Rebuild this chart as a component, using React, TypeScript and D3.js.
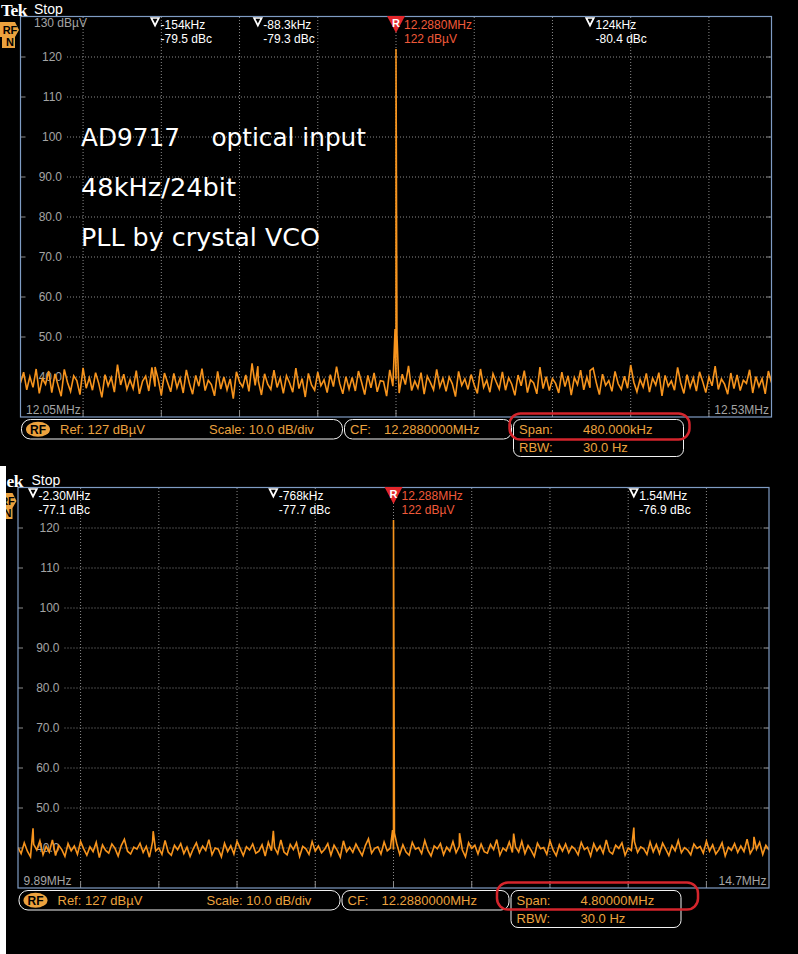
import { scaleLinear, line } from 'd3'

// noise floor (dBµV), evenly spaced across the span
const topNoise = [
  38.5, 41.2, 36.8, 40.1, 37.4, 42.0, 35.9, 39.6, 38.2, 41.5, 36.1, 40.8, 37.9, 35.2, 41.9, 38.7, 36.4, 40.3, 39.1, 35.6,
  42.3, 37.2, 39.8, 36.7, 41.1, 38.4, 34.9, 40.6, 37.8, 39.9, 36.2, 43.1, 38.0, 40.7, 36.9, 39.3, 37.1, 41.6, 35.8, 38.9,
  40.2, 36.5, 42.4, 37.6, 39.4, 35.4, 41.0, 38.6, 36.3, 40.9, 37.3, 39.7, 36.0, 41.8, 38.3, 35.7, 40.4, 37.7, 42.1, 36.6,
  39.2, 38.1, 35.3, 41.4, 37.0, 40.0, 36.8, 39.5, 34.6, 41.3, 38.8, 37.5, 40.5, 36.4, 43.4, 37.9, 39.0, 35.5, 40.8, 38.2,
  36.9, 41.7, 37.4, 39.8, 35.9, 40.3, 38.5, 36.2, 42.2, 37.1, 39.6, 35.0, 40.9, 38.0, 36.7, 41.2, 37.8, 39.3, 36.1, 40.6,
  37.6, 42.6, 38.4, 35.8, 40.1, 37.0, 39.9, 36.5, 41.5, 38.7, 35.6, 40.4, 37.3, 41.0, 36.3, 39.1, 38.9, 35.2, 41.8, 37.7,
  39.4, 36.0, 40.7, 38.1, 42.8, 36.6, 39.0, 37.2, 41.1, 35.7, 40.2, 38.6, 36.8, 41.9, 37.5, 39.7, 36.4, 40.0, 38.3, 35.1,
  41.4, 37.9, 39.5, 36.9, 40.6, 38.0, 35.9, 42.0, 37.4, 39.2, 36.2, 40.8, 38.8, 37.0, 41.3, 36.7, 39.8, 38.2, 35.4, 40.5,
  37.8, 41.6, 36.1, 39.3, 38.5, 35.8, 42.5, 37.1, 40.1, 36.6, 39.6, 38.4, 36.0, 41.2, 37.6, 40.3, 35.5, 39.9, 38.1, 41.7,
  36.8, 40.0, 37.3, 42.2, 38.6, 35.6, 40.7, 37.9, 39.1, 36.4, 41.4, 38.3, 36.9, 40.2, 37.2, 43.0, 38.7, 36.3, 39.4, 37.5,
  40.9, 36.2, 39.7, 38.0, 41.1, 35.3, 40.4, 37.7, 39.0, 36.7, 42.4, 38.5, 35.9, 40.6, 37.4, 39.8, 36.5, 41.3, 38.9, 36.1,
  40.0, 37.8, 42.7, 36.9, 39.5, 38.2, 35.7, 41.0, 37.1, 40.5, 36.6, 39.2, 38.4, 41.8, 36.0, 40.1, 37.6, 39.6, 35.8, 41.5,
  38.6,
]

const bottomNoise = [
  40.1, 38.6, 41.3, 39.2, 37.8, 40.9, 39.5, 41.8, 38.3, 40.4, 39.0, 42.0, 38.1, 40.7, 39.6, 37.9, 41.1, 39.3, 40.5, 38.4,
  41.6, 39.8, 38.2, 40.3, 39.1, 41.4, 37.6, 40.8, 39.4, 38.7, 41.0, 39.9, 38.0, 40.6, 42.2, 39.2, 38.5, 40.2, 39.7, 41.2,
  38.9, 40.4, 37.7, 41.5, 39.3, 40.0, 38.4, 41.9, 39.0, 38.2, 40.7, 39.6, 41.1, 38.6, 40.2, 37.9, 39.8, 41.3, 38.8, 40.5,
  39.4, 42.1, 38.3, 40.0, 39.7, 37.8, 41.2, 39.1, 40.6, 38.5, 41.7, 39.9, 38.1, 40.3, 39.5, 41.0, 38.7, 39.2, 40.8, 38.0,
  41.4, 39.3, 40.1, 38.6, 42.0, 39.0, 38.3, 40.9, 39.6, 41.3, 37.9, 40.4, 39.8, 38.4, 41.6, 39.2, 40.5, 38.8, 39.7, 41.1,
  38.2, 40.7, 39.4, 37.7, 41.8, 39.1, 40.2, 38.9, 41.0, 39.5, 38.1, 40.6, 42.3, 38.7, 39.9, 40.3, 38.5, 41.5, 39.3, 40.0,
  39.6, 41.2, 38.4, 40.8, 39.0, 38.2, 41.4, 39.7, 40.1, 38.6, 41.9, 39.4, 38.0, 40.5, 39.8, 41.1, 38.3, 40.2, 39.2, 41.6,
  38.8, 40.4, 39.5, 37.8, 41.3, 39.9, 40.7, 38.5, 41.0, 39.1, 38.7, 40.9, 39.6, 42.1, 38.2, 40.0, 39.3, 41.5, 38.9, 40.3,
  39.0, 41.7, 38.6, 40.6, 39.4, 37.9, 41.2, 39.8, 40.1, 38.4, 41.8, 39.5, 38.1, 40.8, 39.2, 41.0, 38.8, 40.4, 39.7, 38.3,
  41.4, 39.6, 40.2, 38.0, 41.1, 39.3, 40.5, 38.7, 42.0, 39.1, 38.5, 40.7, 39.9, 41.3, 38.2, 40.0, 39.4, 41.6, 38.9, 40.3,
  39.8, 38.4, 41.5, 39.0, 40.9, 38.6, 41.2, 39.7, 38.1, 40.6, 39.3, 41.9, 38.8, 40.1, 39.5, 38.3, 41.0, 39.9, 40.4, 38.7,
  41.7, 39.2, 40.8, 38.5, 39.6, 41.3, 38.0, 40.2, 39.4, 41.1, 38.9, 40.5, 39.1, 42.2, 38.6, 40.0, 39.7, 41.4, 38.4, 40.7,
  39.5,
]

// carrier (with its close-in skirt) and spurs, offset from centre in kHz
const topSpurFreqs = [-0.6, 0, 0.6, -154, -88.3, 124]
const topSpurLevels = [52.0, 122, 50.5, 42.5, 42.7, 41.6]
const bottomSpurFreqs = [-6, 0, 6, -2304, -1536, -768, 422, 768, 1536, 2304]
const bottomSpurLevels = [44.5, 122, 43.8, 44.9, 44.2, 44.3, 43.7, 43.6, 45.1, 42.8]

const topMarkerFreqs = [-154, -88.3, 124]
const topMarkerLabels = ['-154kHz', '-88.3kHz', '124kHz']
const topMarkerDbc = ['-79.5 dBc', '-79.3 dBc', '-80.4 dBc']
const bottomMarkerFreqs = [-2304, -768, 1536]
const bottomMarkerLabels = ['-2.30MHz', '-768kHz', '1.54MHz']
const bottomMarkerDbc = ['-77.1 dBc', '-77.7 dBc', '-76.9 dBc']

const yTicks = [120, 110, 100, 90, 80, 70, 60, 50, 40]
const yTickLabels = ['120', '110', '100', '90.0', '80.0', '70.0', '60.0', '50.0', '40.0']

const noteLines = ['AD9717\u00a0\u00a0\u00a0\u00a0optical input', '48kHz/24bit', 'PLL by crystal VCO']
const noteWidths = [285, 155, 239]

const FONT = '"Liberation Sans", Arial, sans-serif'
const ORANGE = '#f7941d'
const INFO = '#eca23e'
const GREY = '#a4a4a4'
const GRID = '#8a8a8a'
const FRAME = '#7f9cc4'

interface PanelProps {
  span: number
  noise: number[]
  spurFreqs: number[]
  spurLevels: number[]
  markerFreqs: number[]
  markerLabels: string[]
  markerDbc: string[]
  brand: string
  brandX: number
  refLabel: string
  leftLabel: string
  rightLabel: string
  spanLabel: string
  showTopLabel: boolean
  redBox: [number, number, number, number]
  clipId: string
  transform: string
}

function buildTrace(noise: number[], span: number, spurFreqs: number[], spurLevels: number[]) {
  const step = span / (noise.length - 1)
  const pts = noise.map((v, i) => ({ f: -span / 2 + i * step, v }))
  spurFreqs.forEach((f, k) => pts.push({ f, v: spurLevels[k] }))
  return pts.sort((a, b) => a.f - b.f)
}

function Panel(p: PanelProps) {
  const left = 20.5
  const right = 771.5
  const top = 17
  const bottom = 417
  const x = scaleLinear().domain([-p.span / 2, p.span / 2]).range([left, right])
  const y = scaleLinear().domain([30, 130]).range([bottom, top])
  const trace = buildTrace(p.noise, p.span, p.spurFreqs, p.spurLevels)
  const path = line<{ f: number; v: number }>()
    .x(d => x(d.f))
    .y(d => y(d.v))(trace)
  const vGrid = x.ticks(10).filter(t => t > -p.span / 2 && t < p.span / 2)
  const carrierX = x(0)

  return (
    <g transform={p.transform} fontFamily={FONT}>
      <clipPath id={p.clipId}>
        <rect x={left} y={top - 1} width={right - left} height={bottom - top + 1} />
      </clipPath>

      <text x={p.brandX} y={15.5} fill="#fff" fontFamily='"Liberation Serif", serif' fontWeight="bold" fontSize={17.5} letterSpacing={-0.5}>
        {p.brand}
      </text>
      <text x={34} y={13.5} fill="#fff" fontSize={14}>
        Stop
      </text>
      <path d="M0,22 H15 L19,30 L15,37 V48 H2 V37 H0 Z" fill={INFO} />
      <text x={10} y={34} fill="#000" fontSize={11} fontWeight="bold" textAnchor="middle">RF</text>
      <text x={10} y={46} fill="#000" fontSize={11} fontWeight="bold" textAnchor="middle">N</text>

      {vGrid.map(t => (
        <g key={`v${t}`}>
          <line x1={x(t)} x2={x(t)} y1={top} y2={bottom} stroke={GRID} strokeDasharray="1,2" />
          <line x1={x(t)} x2={x(t)} y1={bottom - 7} y2={bottom} stroke={GRID} />
        </g>
      ))}
      {yTicks.map((t, i) => (
        <g key={`h${t}`}>
          <line x1={67} x2={right} y1={y(t)} y2={y(t)} stroke={GRID} strokeDasharray="1,2" />
          <line x1={left} x2={left + 5} y1={y(t)} y2={y(t)} stroke={GRID} />
          <line x1={right - 5} x2={right} y1={y(t)} y2={y(t)} stroke={GRID} />
          <text x={62} y={y(t) + 4} fill={GREY} fontSize={12} textAnchor="end">
            {yTickLabels[i]}
          </text>
        </g>
      ))}
      {p.showTopLabel && (
        <text x={34} y={27} fill={GREY} fontSize={12}>
          130 dBµV
        </text>
      )}
      <text x={26} y={414} fill={GREY} fontSize={12}>{p.leftLabel}</text>
      <text x={769} y={414} fill={GREY} fontSize={12} textAnchor="end">{p.rightLabel}</text>

      <path d={path ?? ''} fill="none" stroke={ORANGE} strokeWidth={1.6} strokeLinejoin="miter" clipPath={`url(#${p.clipId})`} />

      <rect x={left} y={top - 0.5} width={right - left} height={bottom - top + 0.5} fill="none" stroke={FRAME} strokeWidth={1.2} />

      {p.markerFreqs.map((f, i) => (
        <g key={`m${f}`}>
          <path d={`M${x(f) - 3.8},18 L${x(f) + 3.8},18 L${x(f)},25.5 Z`} fill="none" stroke="#fff" strokeWidth={1.7} />
          <text x={x(f) + 5.5} y={29} fill="#fff" fontSize={12}>{p.markerLabels[i]}</text>
          <text x={x(f) + 5.5} y={43} fill="#fff" fontSize={12}>{p.markerDbc[i]}</text>
        </g>
      ))}
      <path d={`M${carrierX - 9},16 L${carrierX + 9},16 L${carrierX},33 Z`} fill="#e3262b" />
      <text x={carrierX} y={27} fill="#fff" fontSize={11} fontWeight="bold" textAnchor="middle">R</text>
      <text x={carrierX + 8} y={29} fill="#f05a3a" fontSize={12}>{p.refLabel}</text>
      <text x={carrierX + 8} y={43} fill="#f05a3a" fontSize={12}>122 dBµV</text>

      <rect x={21.5} y={419.5} width={321} height={19.5} rx={9} fill="none" stroke="#f2f2f2" />
      <ellipse cx={38} cy={429.2} rx={12} ry={7.5} fill={INFO} />
      <text x={38} y={433.5} fill="#000" fontSize={12} fontWeight="bold" textAnchor="middle">RF</text>
      <text x={60} y={434} fill={INFO} fontSize={13}>Ref: 127 dBµV</text>
      <text x={209} y={434} fill={INFO} fontSize={13}>Scale: 10.0 dB/div</text>
      <rect x={344.5} y={419.5} width={167} height={19.5} rx={8} fill="none" stroke="#f2f2f2" />
      <text x={350} y={434} fill={INFO} fontSize={13}>CF:</text>
      <text x={384} y={434} fill={INFO} fontSize={13}>12.2880000MHz</text>
      <rect x={513.5} y={419.5} width={170} height={37} rx={7} fill="none" stroke="#f2f2f2" />
      <text x={519} y={434} fill={INFO} fontSize={13}>Span:</text>
      <text x={583} y={434} fill={INFO} fontSize={13}>{p.spanLabel}</text>
      <text x={519} y={452} fill={INFO} fontSize={13}>RBW:</text>
      <text x={583} y={452} fill={INFO} fontSize={13}>30.0 Hz</text>
      <rect
        x={p.redBox[0]}
        y={p.redBox[1]}
        width={p.redBox[2]}
        height={p.redBox[3]}
        rx={11}
        fill="none"
        stroke="#d4252c"
        strokeWidth={2.5}
      />
    </g>
  )
}

export default function App() {
  return (
    <svg
      width={798}
      height={954}
      viewBox="0 0 798 954"
      style={{ position: 'absolute', left: 0, top: 0, display: 'block', background: '#000' }}
    >
      <rect width={798} height={954} fill="#000" />
      <Panel
        span={480}
        noise={topNoise}
        spurFreqs={topSpurFreqs}
        spurLevels={topSpurLevels}
        markerFreqs={topMarkerFreqs}
        markerLabels={topMarkerLabels}
        markerDbc={topMarkerDbc}
        brand="Tek"
        brandX={1}
        refLabel="12.2880MHz"
        leftLabel="12.05MHz"
        rightLabel="12.53MHz"
        spanLabel="480.000kHz"
        showTopLabel
        redBox={[509.5, 413.5, 180, 26]}
        clipId="clipTop"
        transform="translate(0,0)"
      />
      {noteLines.map((t, i) => (
        <text
          key={t}
          x={81}
          y={146 + i * 50}
          fill="#fff"
          fontFamily='"DejaVu Sans", sans-serif'
          fontSize={24}
          textLength={noteWidths[i]}
          lengthAdjust="spacingAndGlyphs"
        >
          {t}
        </text>
      ))}
      <Panel
        span={4800}
        noise={bottomNoise}
        spurFreqs={bottomSpurFreqs}
        spurLevels={bottomSpurLevels}
        markerFreqs={bottomMarkerFreqs}
        markerLabels={bottomMarkerLabels}
        markerDbc={bottomMarkerDbc}
        brand="ek"
        brandX={9}
        refLabel="12.288MHz"
        leftLabel="9.89MHz"
        rightLabel="14.7MHz"
        spanLabel="4.80000MHz"
        showTopLabel={false}
        redBox={[499.5, 411.5, 201, 27]}
        clipId="clipBottom"
        transform="translate(-2.5,471)"
      />
      <rect x={0} y={466} width={6} height={488} fill="#fff" />
    </svg>
  )
}
